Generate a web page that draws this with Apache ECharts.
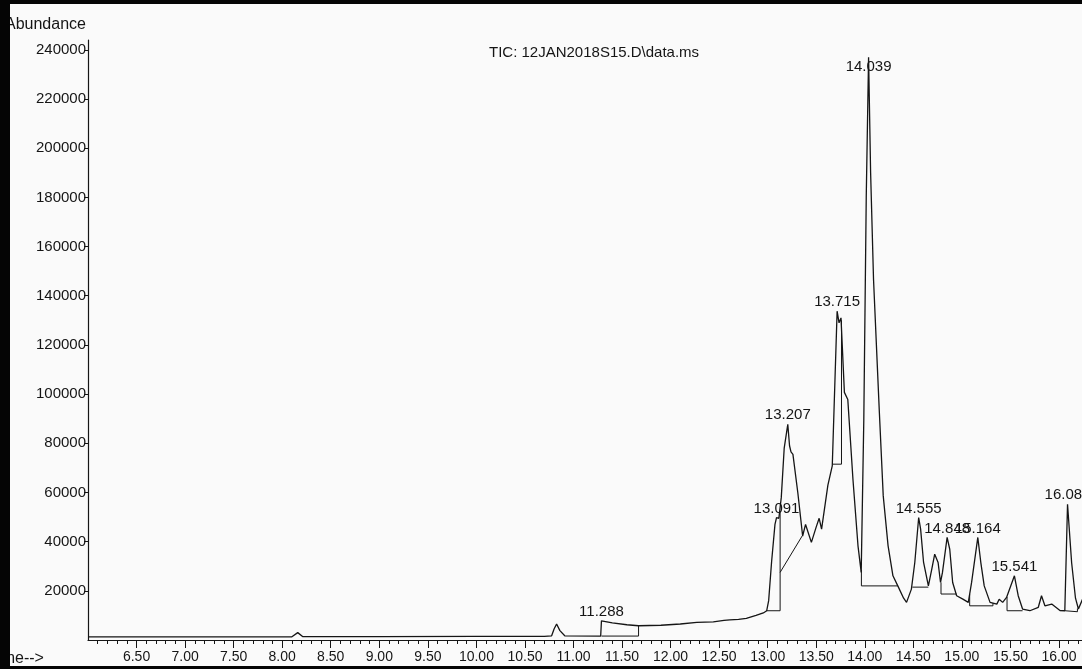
<!DOCTYPE html>
<html>
<head>
<meta charset="utf-8">
<script src="https://cdn.jsdelivr.net/npm/echarts@6/dist/echarts.min.js"></script>
<style>
  html, body { margin: 0; padding: 0; background: #fafafa; }
  #chart { width: 1082px; height: 669px; }
</style>
</head>
<body>
<div id="chart"></div>
<script>
// Total ion chromatogram: retention time (min) vs abundance
const rt = [6.00, 7.00, 8.10, 8.16, 8.21, 9.00, 10.00, 10.70, 10.775, 10.80, 10.826, 10.86, 10.91,
  11.28, 11.288, 11.40, 11.55, 11.67, 11.90, 12.10, 12.27, 12.44, 12.55, 12.61, 12.70, 12.78, 12.88,
  12.955, 12.99, 13.01, 13.04, 13.075, 13.091, 13.115, 13.14, 13.17, 13.207, 13.225, 13.24, 13.26,
  13.31, 13.36, 13.39, 13.45, 13.50, 13.53, 13.555, 13.62, 13.665, 13.715, 13.735, 13.755, 13.79,
  13.825, 13.878, 13.93, 13.963, 13.99, 14.015, 14.039, 14.06, 14.09, 14.15, 14.19, 14.24, 14.29,
  14.34, 14.40, 14.43, 14.48, 14.515, 14.555, 14.575, 14.605, 14.655, 14.69, 14.72, 14.755, 14.78,
  14.80, 14.848, 14.875, 14.905, 14.946, 15.01, 15.066, 15.10, 15.164, 15.195, 15.23, 15.29, 15.36,
  15.384, 15.42, 15.46, 15.541, 15.58, 15.625, 15.70, 15.787, 15.82, 15.855, 15.925, 16.01, 16.06,
  16.088, 16.13, 16.17, 16.20, 16.25, 16.30];

const abundance = [1300, 1300, 1300, 3000, 1400, 1400, 1500, 1500, 1700, 4500, 6500, 3800, 1700,
  1600, 7800, 7000, 6200, 5800, 6000, 6500, 7200, 7400, 8000, 8200, 8400, 8800, 10000,
  11000, 11900, 16000, 31700, 47000, 49800, 49500, 58000, 78000, 87700, 79000, 76500, 75500,
  60000, 42300, 47000, 39700, 46000, 49500, 45100, 63000, 70800, 133700, 129000, 131000, 100700,
  97800, 65400, 38300, 27500, 90000, 180000, 237000, 190000, 146600, 92600, 58600, 38300, 26100,
  22000, 17000, 15300, 20700, 31500, 49800, 45100, 31700, 22000, 28800, 34900, 31500, 23400,
  27500, 41700, 36900, 23400, 18000, 16600, 15300, 23400, 41700, 31500, 22000, 15300, 14600,
  16600, 15300, 17300, 26100, 18000, 12600, 11900, 13300, 18000, 13900, 14600, 12000, 11900,
  55200, 31500, 17000, 12600, 17300, 15000];

// Labelled peak apex retention times
const peakTimes = [11.288, 13.091, 13.207, 13.715, 14.039, 14.555, 14.848, 15.164, 15.541, 16.088];

// Integration baselines and drop lines, [rt, abundance] vertices
const integrationMarks = [
  [[11.288, 1600], [11.67, 1600], [11.67, 5800]],
  [[12.99, 11900], [13.128, 11900], [13.128, 52500]],
  [[13.128, 27500], [13.355, 42300]],
  [[13.668, 71500], [13.76, 71500], [13.76, 130000]],
  [[13.965, 28500], [13.965, 22000], [14.34, 22000]],
  [[14.49, 21500], [14.655, 21500]],
  [[14.785, 23400], [14.785, 18700], [14.945, 18700]],
  [[15.08, 18600], [15.08, 13900], [15.32, 13900], [15.32, 15000]],
  [[15.465, 17500], [15.465, 11900], [15.625, 11900]],
  [[16.06, 11900], [16.06, 11500], [16.19, 11500], [16.19, 12800]]
];

const xTicks = [6.5, 7.0, 7.5, 8.0, 8.5, 9.0, 9.5, 10.0, 10.5, 11.0, 11.5, 12.0, 12.5, 13.0,
  13.5, 14.0, 14.5, 15.0, 15.5, 16.0];
const yTicks = [20000, 40000, 60000, 80000, 100000, 120000, 140000, 160000, 180000, 200000,
  220000, 240000];

const FONT = '"Liberation Sans", Arial, sans-serif';
const INK = '#151515';

const chart = echarts.init(document.getElementById('chart'), null, { renderer: 'canvas' });

const markSeries = integrationMarks.map(function (pts) {
  return {
    type: 'line',
    data: pts,
    symbol: 'none',
    silent: true,
    lineStyle: { color: INK, width: 1 },
    z: 2
  };
});

chart.setOption({
  animation: false,
  backgroundColor: '#fafafa',
  title: {
    text: 'TIC: 12JAN2018S15.D\\data.ms',
    left: 484,
    top: 40,
    textStyle: { fontFamily: FONT, fontSize: 15, fontWeight: 'normal', color: INK }
  },
  grid: { left: 88, right: 0, top: 40, bottom: 29 },
  xAxis: {
    type: 'value',
    min: 6,
    max: 16.237,
    interval: 0.5,
    axisLine: { show: true, lineStyle: { color: INK, width: 1.2 } },
    axisTick: { show: true, length: 8, customValues: xTicks, lineStyle: { color: INK, width: 1 } },
    minorTick: { show: true, splitNumber: 5, length: 4, lineStyle: { color: INK, width: 1 } },
    axisLabel: {
      customValues: xTicks,
      margin: 10,
      fontFamily: FONT,
      fontSize: 14,
      color: INK,
      formatter: function (v) { return v.toFixed(2); }
    },
    splitLine: { show: false }
  },
  yAxis: {
    type: 'value',
    min: 0,
    max: 244000,
    interval: 20000,
    axisLine: { show: true, lineStyle: { color: INK, width: 1.2 } },
    axisTick: { show: true, length: 4, customValues: yTicks, lineStyle: { color: INK, width: 1 } },
    axisLabel: {
      customValues: yTicks,
      margin: 2,
      fontFamily: FONT,
      fontSize: 15,
      color: INK,
      formatter: function (v) { return String(v); }
    },
    splitLine: { show: false }
  },
  series: [{
    type: 'line',
    data: rt.map(function (t, i) { return [t, abundance[i]]; }),
    symbol: 'none',
    silent: true,
    lineStyle: { color: INK, width: 1.3 },
    z: 3
  }].concat(markSeries),
  graphic: [
    { id: 'yname', type: 'text', z: 50,
      style: { text: 'Abundance', x: 5, y: 25, fill: INK, font: '16px ' + FONT,
               align: 'left', verticalAlign: 'middle', textAlign: 'left', textVerticalAlign: 'middle' } },
    { id: 'xname', type: 'text', z: 50,
      style: { text: 'Time-->', x: -11, y: 659, fill: INK, font: '16px ' + FONT,
               align: 'left', verticalAlign: 'middle', textAlign: 'left', textVerticalAlign: 'middle' } },
    { id: 'edgeL', type: 'rect', z: 100, shape: { x: 0, y: 0, width: 10, height: 669 }, style: { fill: '#050505' } },
    { id: 'edgeT', type: 'rect', z: 100, shape: { x: 0, y: 0, width: 1082, height: 4 }, style: { fill: '#050505' } },
    { id: 'edgeB', type: 'rect', z: 100, shape: { x: 0, y: 666, width: 1082, height: 3 }, style: { fill: '#050505' } }
  ]
});

// Retention-time labels just above each apex, kept inside the plot top
const peakLabels = peakTimes.map(function (t, k) {
  const a = abundance[rt.indexOf(t)];
  const p = chart.convertToPixel({ xAxisIndex: 0, yAxisIndex: 0 }, [t, a]);
  return {
    id: 'peak' + k, type: 'text', z: 10,
    style: {
      text: t.toFixed(3), x: p[0], y: Math.max(p[1] - 9, 67), fill: INK, font: '15px ' + FONT,
      align: 'center', verticalAlign: 'middle', textAlign: 'center', textVerticalAlign: 'middle'
    }
  };
});
chart.setOption({ graphic: peakLabels });
</script>
</body>
</html>
